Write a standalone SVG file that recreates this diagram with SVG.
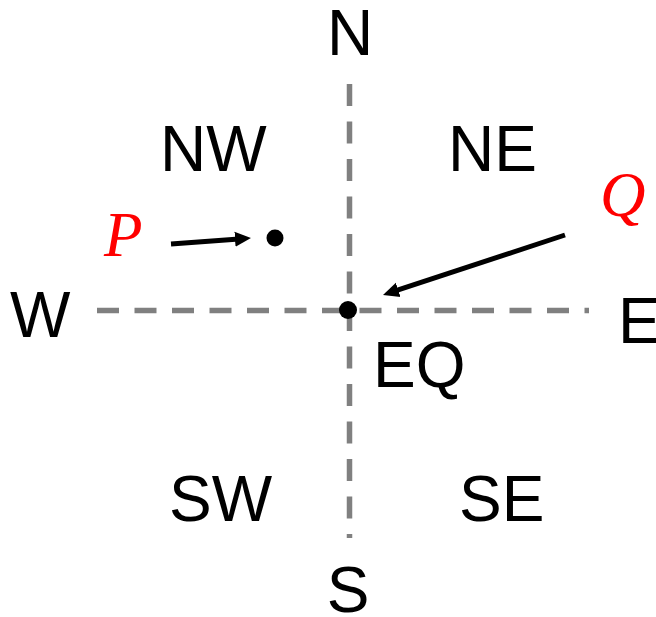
<svg xmlns="http://www.w3.org/2000/svg" width="656" height="617" viewBox="0 0 656 617">
<style>
.lbl{font-family:"Liberation Sans",Arial,sans-serif;font-size:64px;fill:#000}
.var{font-family:"Liberation Serif","Times New Roman",serif;font-style:italic;font-size:63px;fill:#ff0000}
.axis{stroke:#808080;stroke-width:5.5;stroke-dasharray:22 15.5;fill:none}
.arr{stroke:#000;stroke-width:5;fill:none;marker-end:url(#ah)}
</style>
<defs>
<marker id="ah" viewBox="0 0 16 16" refX="4" refY="8" markerWidth="16" markerHeight="16" markerUnits="userSpaceOnUse" orient="auto">
<path d="M0,0.5 L16,8 L0,15.5 z" fill="#000"/>
</marker>
</defs>
<rect width="656" height="617" fill="#fff"/>
<g id="axes">
<line class="axis" x1="97" y1="310.5" x2="589" y2="310.5"/>
<line class="axis" x1="349.5" y1="84" x2="349.5" y2="538"/>
</g>
<g id="connectors">
<line class="arr" x1="171" y1="244" x2="239" y2="238.9"/>
<line class="arr" x1="565" y1="235" x2="394.4" y2="291.2"/>
</g>
<g id="point-P-dot"><circle cx="275" cy="238" r="8.5" fill="#000"/></g>
<g id="point-EQ-dot"><circle cx="348" cy="310" r="9" fill="#000"/></g>
<g id="label-N"><text class="lbl" x="350" y="55" text-anchor="middle">N</text></g>
<g id="label-NW"><text class="lbl" x="160" y="171">NW</text></g>
<g id="label-NE"><text class="lbl" x="448" y="171">NE</text></g>
<g id="label-W"><text class="lbl" x="10" y="337">W</text></g>
<g id="label-E"><text class="lbl" x="618" y="343">E</text></g>
<g id="label-EQ"><text class="lbl" x="373" y="387">EQ</text></g>
<g id="label-SW"><text class="lbl" x="169" y="521">SW</text></g>
<g id="label-SE"><text class="lbl" x="459" y="521">SE</text></g>
<g id="label-S"><text class="lbl" x="348" y="612" text-anchor="middle">S</text></g>
<g id="label-P"><text class="var" x="104" y="256">P</text></g>
<g id="label-Q"><text class="var" x="600" y="216">Q</text></g>
</svg>
